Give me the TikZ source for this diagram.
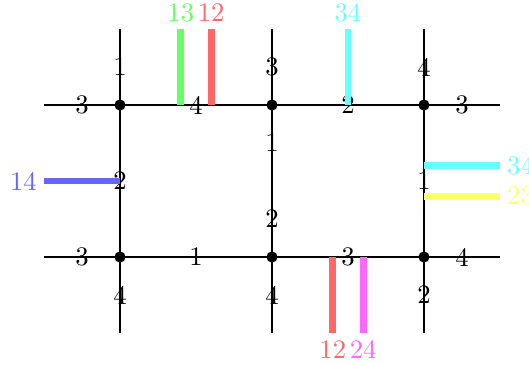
\documentclass[tikz,border=0pt]{standalone}
\usetikzlibrary{calc}
\definecolor{cgreen}{HTML}{66FF66}
\definecolor{cred}{HTML}{FF6666}
\definecolor{ccyan}{HTML}{66FFFF}
\definecolor{cblue}{HTML}{6666FF}
\definecolor{cyel}{HTML}{FFFF66}
\definecolor{cmag}{HTML}{FF66FF}
\begin{document}
\begin{tikzpicture}[
  edge/.style={line width=0.9pt},
  vdot/.style={circle,fill=black,inner sep=0pt,minimum size=4.2pt},
  lbl/.style={inner sep=0pt},
  cl/.style={line width=2.6pt},
  tag/.style={inner sep=2.7pt,outer sep=0pt},
]
\useasboundingbox (-1.579,-1.408) rectangle (5.382,3.382);
% vertices
\coordinate (A) at (0,2); \coordinate (B) at (2,2); \coordinate (C) at (4,2);
\coordinate (D) at (0,0); \coordinate (E) at (2,0); \coordinate (F) at (4,0);
% free ends
\coordinate (Aw) at (-1,2); \coordinate (An) at (0,3);
\coordinate (Bn) at (2,3); \coordinate (Cn) at (4,3); \coordinate (Ce) at (5,2);
\coordinate (Dw) at (-1,0); \coordinate (Ds) at (0,-1);
\coordinate (Es) at (2,-1); \coordinate (Fs) at (4,-1); \coordinate (Fe) at (5,0);
% labels
\node[lbl] (l1) at (-0.5,2) {3};
\node[lbl] (l2) at (0,2.5) {1};
\node[lbl] (l3) at (1,2) {4};
\node[lbl] (l4) at (2,2.5) {3};
\node[lbl] (l5) at (3,2) {2};
\node[lbl] (l6) at (2,1.5) {1};
\node[lbl] (l7) at (4,2.5) {4};
\node[lbl] (l8) at (4.5,2) {3};
\node[lbl] (l9) at (4,1) {1};
\node[lbl] (l10) at (0,1) {2};
\node[lbl] (l11) at (-0.5,0) {3};
\node[lbl] (l12) at (1,0) {1};
\node[lbl] (l13) at (0,-0.5) {4};
\node[lbl] (l14) at (2,0.5) {2};
\node[lbl] (l15) at (2,-0.5) {4};
\node[lbl] (l16) at (3,0) {3};
\node[lbl] (l17) at (4.5,0) {4};
\node[lbl] (l18) at (4,-0.5) {2};
% black edges
\draw[edge] (Aw) -- (A) -- (B) -- (C) -- (Ce);
\draw[edge] (Dw) -- (D) -- (E) -- (F) -- (Fe);
\draw[edge] (An) -- (A) -- (D) -- (Ds);
\draw[edge] (Bn) -- (B) -- (E) -- (Es);
\draw[edge] (Cn) -- (C) -- (F) -- (Fs);
% coloured strands
\coordinate (g1) at (0.8,3); \coordinate (g2) at (0.8,2);
\coordinate (r1) at (1.2,3); \coordinate (r2) at (1.2,2);
\coordinate (c1) at (3,3); \coordinate (c2) at (3,2);
\coordinate (b1) at (-1,1); \coordinate (b2) at (0,1);
\coordinate (c3) at (5,1.2); \coordinate (c4) at (4,1.2);
\coordinate (y1) at (5,0.8); \coordinate (y2) at (4,0.8);
\coordinate (r3) at (2.8,-1); \coordinate (r4) at (2.8,0);
\coordinate (m1) at (3.2,-1); \coordinate (m2) at (3.2,0);
\draw[cl,cgreen] (g2) -- (g1) node[tag,above,text=cgreen] {13};
\draw[cl,cred] (r2) -- (r1) node[tag,above,text=cred] {12};
\draw[cl,ccyan] (c2) -- (c1) node[tag,above,text=ccyan] {34};
\draw[cl,cblue] (b2) -- (b1) node[tag,left,text=cblue] {14};
\draw[cl,ccyan] (c4) -- (c3) node[tag,right,text=ccyan] {34};
\draw[cl,cyel] (y2) -- (y1) node[tag,right,text=cyel] {23};
\draw[cl,cred] (r4) -- (r3) node[tag,below,text=cred] {12};
\draw[cl,cmag] (m2) -- (m1) node[tag,below,text=cmag] {24};
% vertex dots
\foreach \v in {A,B,C,D,E,F} \node[vdot] (dot\v) at (\v) {};
\end{tikzpicture}
\end{document}
